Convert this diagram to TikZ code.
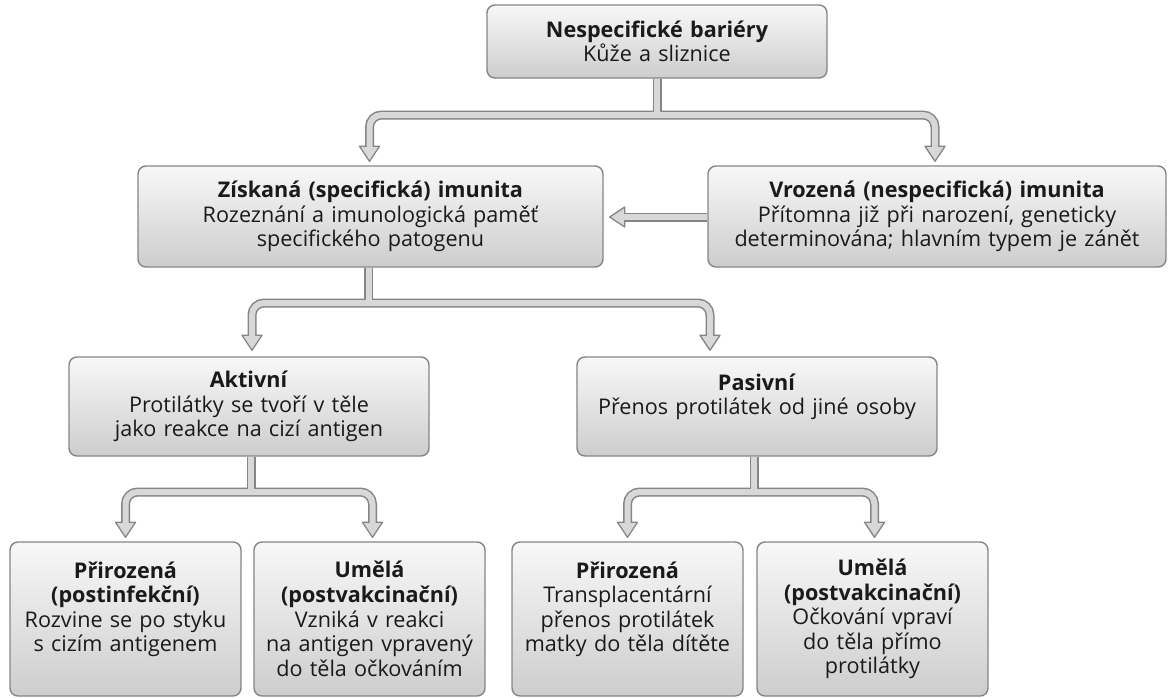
\documentclass[tikz,border=0pt]{standalone}
\usepackage{fontspec}
\setmainfont{Open Sans}
\usetikzlibrary{calc}
\definecolor{edge}{HTML}{858585}
\definecolor{boxtop}{HTML}{F8F8F8}
\definecolor{boxbot}{HTML}{CDCDCD}
\definecolor{pipefill}{HTML}{D8D8D8}
\definecolor{ink}{HTML}{1A1A1A}
\tikzset{
  box/.style={draw=edge, line width=1.4pt, rounded corners=8pt,
    top color=boxtop, bottom color=boxbot, text=ink, align=center,
    inner sep=0pt, font=\fontsize{21.6}{24.6}\selectfont},
  pipeout/.style={draw=edge, line width=9pt, rounded corners=12pt},
  pipein/.style={draw=pipefill, line width=6pt, rounded corners=12pt},
  head/.style={fill=pipefill, draw=edge, line width=1.3pt, line join=round},
}
\newcommand\headdown[1]{\draw[head] (#1) -- ++(-10,-15) -- ++(20,0) -- cycle;}
\newcommand\headleft[1]{\draw[head] (#1) -- ++(15,-10) -- ++(0,20) -- cycle;}
\newcommand\branch[4]{%
  \draw[pipeout] (#1) -- (#1 |- #2);
  \draw[pipeout] ($(#3)+(0,-15)$) -- (#3 |- #2) -- (#4 |- #2) -- ($(#4)+(0,-15)$);
  \headdown{#3}\headdown{#4}
  \draw[pipein] (#1) -- (#1 |- #2);
  \draw[pipein] ($(#3)+(0,-12)$) -- (#3 |- #2) -- (#4 |- #2) -- ($(#4)+(0,-12)$);
}
\begin{document}
\begin{tikzpicture}[x=1pt,y=-1pt]
\useasboundingbox[fill=white] (0,0) rectangle (1169,697);

\node[box, minimum width=340pt, minimum height=73pt, text width=334pt] (top) at (657,41.5)
  {\textbf{Nespecifické bariéry}\\Kůže a sliznice};
\node[box, minimum width=465pt, minimum height=101pt, text width=459pt] (zisk) at (370.5,216.5)
  {\textbf{Získaná (specifická) imunita}\\Rozeznání a imunologická paměť\\specifického patogenu};
\node[box, minimum width=458pt, minimum height=101pt, text width=454pt] (vroz) at (937,216.5)
  {\textbf{Vrozená (nespecifická) imunita}\\Přítomna již při narození, geneticky\\determinována; hlavním typem je zánět};
\node[box, minimum width=360pt, minimum height=99pt, text width=354pt] (akt) at (249,406.5)
  {\textbf{Aktivní}\\Protilátky se tvoří v těle\\jako reakce na cizí antigen};
\node[box, minimum width=360pt, minimum height=99pt, text width=354pt] (pas) at (757,406.5)
  {\textbf{Pasivní}\\Přenos protilátek od jiné osoby\\\mbox{}};
\node[box, minimum width=231pt, minimum height=154pt, text width=229pt] (b1) at (125.5,619)
  {\textbf{Přirozená}\\\textbf{(postinfekční)}\\Rozvine se po styku\\s cizím antigenem\\\mbox{}};
\node[box, minimum width=231pt, minimum height=154pt, text width=229pt] (b2) at (369.5,619)
  {\textbf{Umělá}\\\textbf{(postvakcinační)}\\Vzniká v reakci\\na antigen vpravený\\do těla očkováním};
\node[box, minimum width=231pt, minimum height=154pt, text width=229pt] (b3) at (627.5,619)
  {\textbf{Přirozená}\\Transplacentární\\přenos protilátek\\matky do těla dítěte\\\mbox{}};
\node[box, minimum width=231pt, minimum height=154pt, text width=229pt] (b4) at (872.5,619)
  {\textbf{Umělá}\\\textbf{(postvakcinační)}\\Očkování vpraví\\do těla přímo\\protilátky};

% bar levels
\coordinate (barA) at (0,115);
\coordinate (barB) at (0,303);
\coordinate (barC) at (0,492);
\coordinate (hlev) at (0,217);
% arrow tips
\coordinate (tZisk) at ($(zisk.north)+(-1,-4)$);
\coordinate (tVroz) at ($(vroz.north)+(-2,-4)$);
\coordinate (tAkt) at ($(akt.north)+(3,-6)$);
\coordinate (tPas) at ($(pas.north)+(-47,-6)$);
\coordinate (tB1) at ($(b1.north)+(0,-4)$);
\coordinate (tB2) at ($(b2.north)+(3,-4)$);
\coordinate (tB3) at ($(b3.north)+(0,-4)$);
\coordinate (tB4) at ($(b4.north)+(2,-4)$);
\coordinate (sZisk) at ($(zisk.south)+(-2,0)$);
\coordinate (sAkt) at ($(akt.south)+(2,0)$);
\coordinate (sPas) at ($(pas.south)+(-3,0)$);

\branch{top.south}{barA}{tZisk}{tVroz}
\branch{sZisk}{barB}{tAkt}{tPas}
\branch{sAkt}{barC}{tB1}{tB2}
\branch{sPas}{barC}{tB3}{tB4}

% horizontal arrow
\coordinate (hs) at (vroz.west |- hlev);
\coordinate (he) at (zisk.east |- hlev);
\coordinate (tH) at ($(he)+(6,0)$);
\draw[pipeout] (hs) -- ($(tH)+(15,0)$);
\headleft{tH}
\draw[pipein] (hs) -- ($(tH)+(12,0)$);
\end{tikzpicture}
\end{document}
